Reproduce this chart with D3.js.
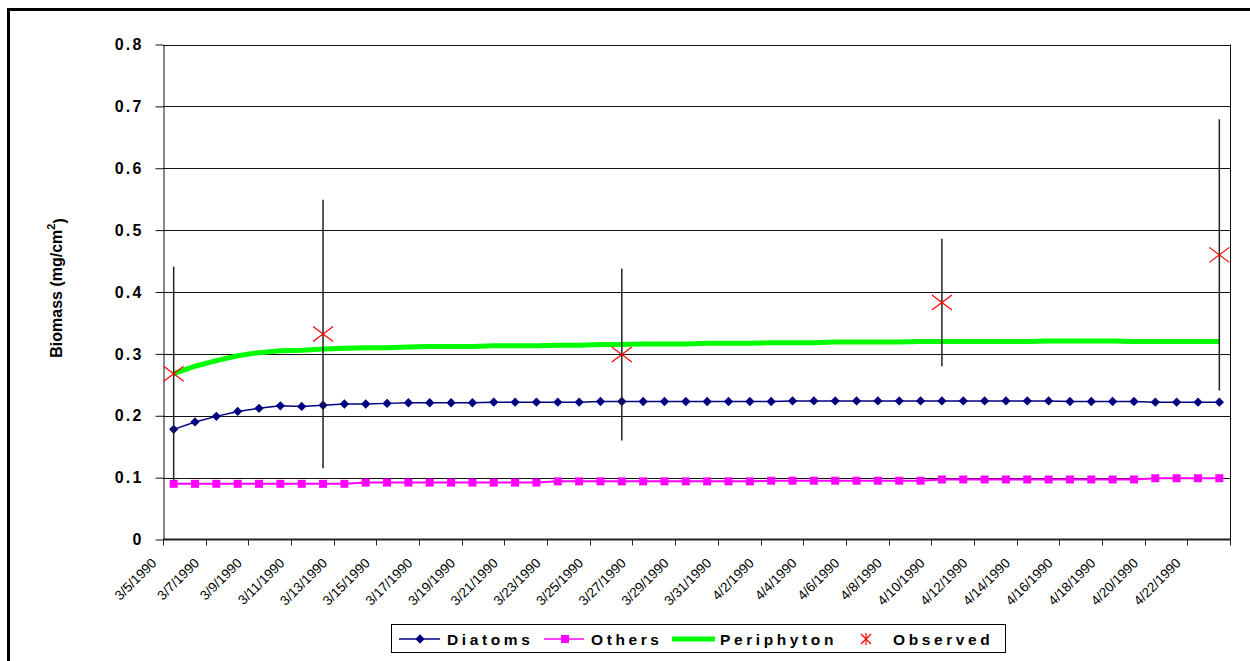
<!DOCTYPE html>
<html>
    <head>
        <meta charset="utf-8">
        <title>Biomass</title>
        <script src="https://cdn.jsdelivr.net/npm/d3@7"></script>
        <style>
            body { margin: 0; background: white; }
            text { font-family: "Liberation Sans", Arial, sans-serif; }
        </style>
    </head>
    <body>
        <script type="text/javascript">

            // Days on the category axis
            var days = ["3/5/1990", "3/6/1990", "3/7/1990", "3/8/1990", "3/9/1990", "3/10/1990",
                        "3/11/1990", "3/12/1990", "3/13/1990", "3/14/1990", "3/15/1990", "3/16/1990",
                        "3/17/1990", "3/18/1990", "3/19/1990", "3/20/1990", "3/21/1990", "3/22/1990",
                        "3/23/1990", "3/24/1990", "3/25/1990", "3/26/1990", "3/27/1990", "3/28/1990",
                        "3/29/1990", "3/30/1990", "3/31/1990", "4/1/1990", "4/2/1990", "4/3/1990",
                        "4/4/1990", "4/5/1990", "4/6/1990", "4/7/1990", "4/8/1990", "4/9/1990",
                        "4/10/1990", "4/11/1990", "4/12/1990", "4/13/1990", "4/14/1990", "4/15/1990",
                        "4/16/1990", "4/17/1990", "4/18/1990", "4/19/1990", "4/20/1990", "4/21/1990",
                        "4/22/1990", "4/23/1990"];

            // Only every second day gets a label
            var tickLabels = ["3/5/1990", "3/7/1990", "3/9/1990", "3/11/1990", "3/13/1990", "3/15/1990",
                              "3/17/1990", "3/19/1990", "3/21/1990", "3/23/1990", "3/25/1990", "3/27/1990",
                              "3/29/1990", "3/31/1990", "4/2/1990", "4/4/1990", "4/6/1990", "4/8/1990",
                              "4/10/1990", "4/12/1990", "4/14/1990", "4/16/1990", "4/18/1990", "4/20/1990",
                              "4/22/1990"];

            var diatoms = [0.178, 0.190, 0.199, 0.207, 0.212, 0.216, 0.215, 0.217, 0.219, 0.219,
                           0.220, 0.221, 0.221, 0.221, 0.221, 0.222, 0.222, 0.222, 0.222, 0.222,
                           0.223, 0.223, 0.223, 0.223, 0.223, 0.223, 0.223, 0.223, 0.223, 0.224,
                           0.224, 0.224, 0.224, 0.224, 0.224, 0.224, 0.224, 0.224, 0.224, 0.224,
                           0.224, 0.224, 0.223, 0.223, 0.223, 0.223, 0.222, 0.222, 0.222, 0.222];

            var others = [0.090, 0.090, 0.090, 0.090, 0.090, 0.090, 0.090, 0.090, 0.090, 0.092,
                          0.092, 0.092, 0.092, 0.092, 0.092, 0.092, 0.092, 0.092, 0.094, 0.094,
                          0.094, 0.094, 0.094, 0.094, 0.094, 0.094, 0.094, 0.094, 0.095, 0.095,
                          0.095, 0.095, 0.095, 0.095, 0.095, 0.095, 0.097, 0.097, 0.097, 0.097,
                          0.097, 0.097, 0.097, 0.097, 0.097, 0.097, 0.099, 0.099, 0.099, 0.099];

            var periphyton = [0.268, 0.280, 0.289, 0.297, 0.302, 0.305, 0.306, 0.308, 0.309, 0.310,
                              0.310, 0.311, 0.312, 0.312, 0.312, 0.313, 0.313, 0.313, 0.314, 0.314,
                              0.315, 0.315, 0.316, 0.316, 0.316, 0.317, 0.317, 0.317, 0.318, 0.318,
                              0.318, 0.319, 0.319, 0.319, 0.319, 0.320, 0.320, 0.320, 0.320, 0.320,
                              0.320, 0.321, 0.321, 0.321, 0.321, 0.320, 0.320, 0.320, 0.320, 0.320];

            // Observed samples with their error bars
            var observedDays = ["3/5/1990", "3/12/1990", "3/26/1990", "4/10/1990", "4/23/1990"];
            var observedValues = [0.268, 0.332, 0.299, 0.383, 0.460];
            var observedErrors = [0.173, 0.217, 0.139, 0.103, 0.219];

            var yTicks = [0, 0.1, 0.2, 0.3, 0.4, 0.5, 0.6, 0.7, 0.8];

            // Dimensions
            var svg_width = 1250;
            var svg_height = 661;
            var plot_left = 163;
            var plot_right = 1230;
            var plot_top = 44.5;
            var plot_bottom = 539.5;

            var svg = d3.select("body")
                        .append("svg")
                        .attr("width", svg_width)
                        .attr("height", svg_height);

            // Outer frame of the chart
            svg.append("rect")
                .attr("x", 8.5)
                .attr("y", 9.5)
                .attr("width", 1300)
                .attr("height", 700)
                .attr("fill", "white")
                .attr("stroke", "black")
                .attr("stroke-width", 3);

            // Scales
            var xScale = d3.scaleBand()
                           .domain(days)
                           .range([plot_left, plot_right]);

            var yScale = d3.scaleLinear()
                           .domain([0, 0.8])
                           .range([plot_bottom, plot_top]);

            function xc(d) { return xScale(d) + xScale.bandwidth() / 2; }

            // Horizontal gridlines
            svg.append("g")
                .selectAll("line")
                .data(yTicks.slice(1))
                .enter()
                .append("line")
                .attr("x1", plot_left)
                .attr("x2", plot_right)
                .attr("y1", function(d) { return Math.round(yScale(d)) + 0.5; })
                .attr("y2", function(d) { return Math.round(yScale(d)) + 0.5; })
                .attr("stroke", "#111")
                .attr("stroke-width", 1);

            // Right border of plot
            svg.append("line")
                .attr("x1", plot_right + 0.5).attr("x2", plot_right + 0.5)
                .attr("y1", yScale(0.8)).attr("y2", plot_bottom)
                .attr("stroke", "#111");

            // y-axis
            var y_axis = svg.append("g")
                            .attr("transform", "translate(" + (plot_left + 0.5) + ",0)")
                            .call(d3.axisLeft(yScale)
                                    .tickValues(yTicks)
                                    .tickSize(8)
                                    .tickSizeOuter(0)
                                    .tickPadding(12)
                                    .tickFormat(function(d) { return d === 0 ? "0" : d3.format(".1f")(d); }));
            y_axis.select(".domain").attr("stroke", "#111");
            y_axis.selectAll(".tick line").attr("stroke", "#111");
            y_axis.selectAll("text")
                  .attr("fill", "black")
                  .style("font-size", "16px")
                  .style("font-weight", "bold")
                  .style("letter-spacing", "2.2px")
                  .style("font-family", "'Liberation Sans', Arial, sans-serif");

            // x-axis, tick marks every second day
            var xTickPositions = tickLabels.map(function(d) { return xScale(d); });
            xTickPositions.push(plot_right);

            svg.append("line")
                .attr("x1", plot_left).attr("x2", plot_right + 1)
                .attr("y1", plot_bottom).attr("y2", plot_bottom)
                .attr("stroke", "#222")
                .attr("stroke-width", 2);

            svg.append("g")
                .selectAll("line")
                .data(xTickPositions)
                .enter()
                .append("line")
                .attr("x1", function(d) { return Math.round(d) + 0.5; })
                .attr("x2", function(d) { return Math.round(d) + 0.5; })
                .attr("y1", plot_bottom)
                .attr("y2", plot_bottom + 6)
                .attr("stroke", "#222");

            svg.append("g")
                .selectAll("text")
                .data(tickLabels)
                .enter()
                .append("text")
                .attr("transform", function(d) {
                    return "translate(" + (xScale(d) - 9) + "," + (plot_bottom + 21) + ") rotate(-45)";
                })
                .attr("text-anchor", "end")
                .attr("dy", "0.35em")
                .style("font-size", "13.5px")
                .text(function(d) { return d; });

            // y-axis title
            var title = svg.append("text")
                           .attr("transform", "translate(62,288) rotate(-90)")
                           .attr("text-anchor", "middle")
                           .style("font-size", "16px")
                           .style("font-weight", "bold");
            title.append("tspan").text("Biomass (mg/cm");
            title.append("tspan").attr("dy", "-0.6em").style("font-size", "11px").text("2");
            title.append("tspan").attr("dy", "0.6em").text(")");

            // Lines
            var line = d3.line()
                         .x(function(d, i) { return xc(days[i]); })
                         .y(function(d) { return yScale(d); });

            svg.append("path")
                .datum(periphyton)
                .attr("d", line)
                .attr("fill", "none")
                .attr("stroke", "#00ff00")
                .attr("stroke-width", 5);

            svg.append("path")
                .datum(others)
                .attr("d", line)
                .attr("fill", "none")
                .attr("stroke", "#ff00ff")
                .attr("stroke-width", 2);

            svg.append("g")
                .selectAll("rect")
                .data(others)
                .enter()
                .append("rect")
                .attr("x", function(d, i) { return xc(days[i]) - 4; })
                .attr("y", function(d) { return yScale(d) - 4; })
                .attr("width", 8)
                .attr("height", 8)
                .attr("fill", "#ff00ff");

            svg.append("path")
                .datum(diatoms)
                .attr("d", line)
                .attr("fill", "none")
                .attr("stroke", "#000080")
                .attr("stroke-width", 1.5);

            var diamond = d3.symbol().type(d3.symbolDiamond2).size(55);
            svg.append("g")
                .selectAll("path")
                .data(diatoms)
                .enter()
                .append("path")
                .attr("d", diamond)
                .attr("transform", function(d, i) {
                    return "translate(" + xc(days[i]) + "," + yScale(d) + ")";
                })
                .attr("fill", "#000080");

            // Error bars of the observed values
            svg.append("g")
                .selectAll("line")
                .data(observedValues)
                .enter()
                .append("line")
                .attr("x1", function(d, i) { return xc(observedDays[i]); })
                .attr("x2", function(d, i) { return xc(observedDays[i]); })
                .attr("y1", function(d, i) { return yScale(d + observedErrors[i]); })
                .attr("y2", function(d, i) { return yScale(d - observedErrors[i]); })
                .attr("stroke", "#222")
                .attr("stroke-width", 1.5);

            // Observed markers (red crosses)
            function cross(g, w, h) {
                g.append("line").attr("x1", -w).attr("y1", -h).attr("x2", w).attr("y2", h);
                g.append("line").attr("x1", -w).attr("y1", h).attr("x2", w).attr("y2", -h);
            }
            svg.append("g")
                .selectAll("g")
                .data(observedValues)
                .enter()
                .append("g")
                .attr("transform", function(d, i) {
                    return "translate(" + xc(observedDays[i]) + "," + yScale(d) + ")";
                })
                .attr("stroke", "#ff0000")
                .attr("stroke-width", 1.2)
                .each(function() { cross(d3.select(this), 10, 7.5); });

            // Legend
            var legend = svg.append("g");
            legend.append("rect")
                .attr("x", 391.5).attr("y", 624.5)
                .attr("width", 614).attr("height", 28)
                .attr("fill", "white")
                .attr("stroke", "black");

            var legendY = 639;
            var legendItems = [
                {name: "Diatoms", x1: 399, x2: 440, text: 447, color: "#000080", width: 1.5},
                {name: "Others", x1: 544, x2: 584, text: 591, color: "#ff00ff", width: 1.5},
                {name: "Periphyton", x1: 672, x2: 715, text: 720, color: "#00ff00", width: 5},
                {name: "Observed", x1: 0, x2: 0, text: 893, color: "#ff0000", width: 0}
            ];

            legendItems.forEach(function(item) {
                if (item.width > 0) {
                    legend.append("line")
                        .attr("x1", item.x1).attr("x2", item.x2)
                        .attr("y1", legendY).attr("y2", legendY)
                        .attr("stroke", item.color)
                        .attr("stroke-width", item.width);
                }
                legend.append("text")
                    .attr("x", item.text)
                    .attr("y", legendY)
                    .attr("dy", "0.36em")
                    .style("font-size", "15.5px")
                    .style("font-weight", "bold")
                    .style("letter-spacing", "3.6px")
                    .text(item.name);
            });

            legend.append("path")
                .attr("d", diamond)
                .attr("transform", "translate(420," + legendY + ")")
                .attr("fill", "#000080");
            legend.append("rect")
                .attr("x", 561).attr("y", legendY - 4)
                .attr("width", 8).attr("height", 8)
                .attr("fill", "#ff00ff");
            var star = legend.append("g")
                             .attr("transform", "translate(866," + legendY + ")")
                             .attr("stroke", "#ff0000")
                             .attr("stroke-width", 1.2);
            cross(star, 5, 5);
            star.append("line").attr("x1", 0).attr("x2", 0).attr("y1", -6).attr("y2", 6);

        </script>
    </body>
</html>
